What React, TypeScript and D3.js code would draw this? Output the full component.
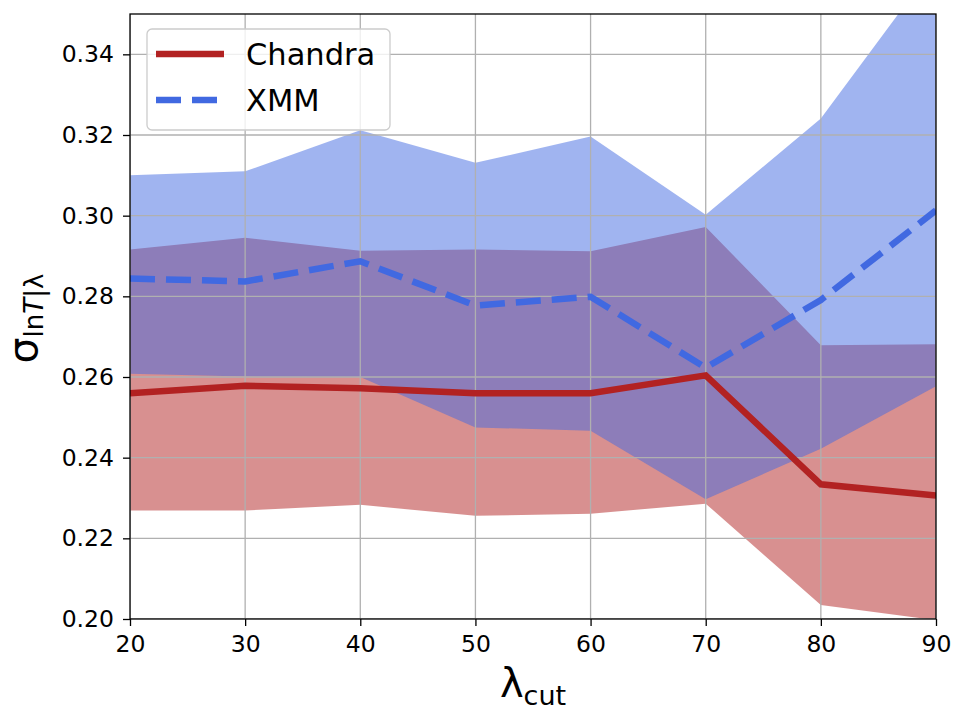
import * as d3 from 'd3';
import React, { useEffect, useRef } from 'react';

// scatter of ln T at fixed richness, per lambda cut
const lambdaCut = [20, 30, 40, 50, 60, 70, 80, 90];

const chandraSigma = [0.2560, 0.2578, 0.2572, 0.2560, 0.2560, 0.2604, 0.2334, 0.2306];
const chandraLow = [0.2269, 0.2269, 0.2283, 0.2256, 0.2261, 0.2286, 0.2035, 0.1997];
const chandraHigh = [0.2916, 0.2945, 0.2913, 0.2916, 0.2912, 0.2972, 0.2679, 0.2681];

const xmmSigma = [0.2844, 0.2837, 0.2887, 0.2777, 0.2799, 0.2623, 0.2791, 0.3013];
const xmmLow = [0.2608, 0.2601, 0.2600, 0.2475, 0.2467, 0.2297, 0.2422, 0.2577];
const xmmHigh = [0.3100, 0.3110, 0.3212, 0.3131, 0.3196, 0.3002, 0.3241, 0.3626];

const xTicks = [20, 30, 40, 50, 60, 70, 80, 90];
const yTicks = [0.20, 0.22, 0.24, 0.26, 0.28, 0.30, 0.32, 0.34];

const W = 960;
const H = 720;
const margin = {top: 14, right: 24, bottom: 101, left: 130};
const dim = {w: W - margin.left - margin.right, h: H - margin.top - margin.bottom};
const FONT = 'DejaVu Sans, sans-serif';

const RED = '#b22222';
const BLUE = '#4169e1';

const x = d3.scaleLinear().domain([20, 90]).range([0, dim.w]);
const y = d3.scaleLinear().domain([0.20, 0.35]).range([dim.h, 0]);

function App() {
  const ref = useRef<SVGSVGElement>(null);

  useEffect(() => {
    const svg = d3.select(ref.current);
    svg.selectAll('*').remove();

    svg.append('defs').append('clipPath')
      .attr('id', 'plot-clip')
      .append('rect')
      .attr('width', dim.w)
      .attr('height', dim.h);

    const g = svg.append('g')
      .attr('transform', `translate(${margin.left}, ${margin.top})`);

    const plot = g.append('g').attr('clip-path', 'url(#plot-clip)');

    const band = (lo: number[], hi: number[]) => d3.area<number>()
      .x(i => x(lambdaCut[i]))
      .y0(i => y(lo[i]))
      .y1(i => y(hi[i]))(d3.range(lambdaCut.length));

    const line = (vals: number[]) => d3.line<number>()
      .x(i => x(lambdaCut[i]))
      .y(i => y(vals[i]))(d3.range(lambdaCut.length));

    // bands first, blue over red gives the purple overlap
    plot.append('path')
      .attr('d', band(chandraLow, chandraHigh))
      .attr('fill', RED)
      .attr('fill-opacity', 0.5);
    plot.append('path')
      .attr('d', band(xmmLow, xmmHigh))
      .attr('fill', BLUE)
      .attr('fill-opacity', 0.5);

    // grid sits above patches, below lines
    plot.selectAll('.gx')
      .data(xTicks)
      .enter()
      .append('line')
      .attr('x1', d => x(d))
      .attr('x2', d => x(d))
      .attr('y1', 0)
      .attr('y2', dim.h)
      .attr('stroke', '#b0b0b0')
      .attr('stroke-width', 1.3);
    plot.selectAll('.gy')
      .data(yTicks)
      .enter()
      .append('line')
      .attr('x1', 0)
      .attr('x2', dim.w)
      .attr('y1', d => y(d))
      .attr('y2', d => y(d))
      .attr('stroke', '#b0b0b0')
      .attr('stroke-width', 1.3);

    plot.append('path')
      .attr('d', line(chandraSigma))
      .attr('fill', 'none')
      .attr('stroke', RED)
      .attr('stroke-width', 6.5);
    plot.append('path')
      .attr('d', line(xmmSigma))
      .attr('fill', 'none')
      .attr('stroke', BLUE)
      .attr('stroke-width', 6.5)
      .attr('stroke-dasharray', '25 11');

    const xAxis = g.append('g')
      .attr('transform', `translate(0, ${dim.h})`)
      .call(d3.axisBottom(x).tickValues(xTicks).tickFormat(d3.format('d'))
        .tickSize(7).tickSizeOuter(0).tickPadding(9));
    const yAxis = g.append('g')
      .call(d3.axisLeft(y).tickValues(yTicks).tickFormat(d3.format('.2f'))
        .tickSize(7).tickSizeOuter(0).tickPadding(9));
    [xAxis, yAxis].forEach(ax => {
      ax.select('.domain').remove();
      ax.selectAll('line').attr('stroke', '#000').attr('stroke-width', 1.3);
      ax.selectAll('text')
        .attr('fill', '#000')
        .style('font-family', FONT)
        .style('font-size', '23.5px');
    });

    g.append('rect')
      .attr('width', dim.w)
      .attr('height', dim.h)
      .attr('fill', 'none')
      .attr('stroke', '#000')
      .attr('stroke-width', 1.3);

    // x label: lambda_cut
    const xl = svg.append('text')
      .attr('x', margin.left + dim.w / 2)
      .attr('y', 697)
      .attr('text-anchor', 'middle')
      .style('font-family', FONT)
      .attr('fill', '#000');
    xl.append('tspan').style('font-size', '40px').text('λ');
    xl.append('tspan').style('font-size', '27px').attr('dy', 8).text('cut');

    // y label: sigma_{ln T | lambda}
    const yl = svg.append('text')
      .attr('transform', `translate(37, ${margin.top + dim.h / 2 + 2}) rotate(-90)`)
      .attr('text-anchor', 'middle')
      .style('font-family', FONT)
      .attr('fill', '#000');
    yl.append('tspan').style('font-size', '41px').text('σ');
    const sub = yl.append('tspan').attr('dy', 6).style('font-size', '26px');
    sub.append('tspan').text('ln');
    sub.append('tspan').style('font-style', 'italic').text('T');
    sub.append('tspan').text('|λ');

    // legend
    const lg = svg.append('g');
    lg.append('rect')
      .attr('x', 147)
      .attr('y', 29)
      .attr('width', 243)
      .attr('height', 101)
      .attr('rx', 5)
      .attr('fill', '#fff')
      .attr('fill-opacity', 0.8)
      .attr('stroke', '#cccccc')
      .attr('stroke-width', 1.3);
    const entries = [
      {label: 'Chandra', color: RED, dash: null, yy: 54},
      {label: 'XMM', color: BLUE, dash: '25 11', yy: 100},
    ];
    entries.forEach(e => {
      lg.append('line')
        .attr('x1', 156)
        .attr('x2', 224)
        .attr('y1', e.yy)
        .attr('y2', e.yy)
        .attr('stroke', e.color)
        .attr('stroke-width', 6.5)
        .attr('stroke-dasharray', e.dash);
      lg.append('text')
        .attr('x', 246)
        .attr('y', e.yy + 11)
        .style('font-family', FONT)
        .style('font-size', '30.5px')
        .attr('fill', '#000')
        .text(e.label);
    });
  }, []);

  return (
    <div style={{position: 'absolute', left: 0, top: 0, background: '#fff'}}>
      <svg ref={ref} width={W} height={H} />
    </div>
  );
}

export default App;
